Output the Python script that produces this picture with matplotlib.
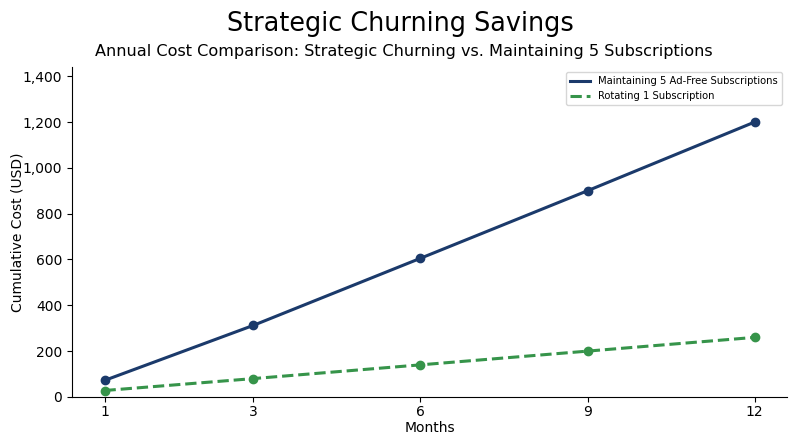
import matplotlib
matplotlib.use("Agg")
import numpy as np
import matplotlib.pyplot as plt
from matplotlib.ticker import FuncFormatter

# data
months = [1, 3, 6, 9, 12]
cost_all_five = [72, 312, 605, 900, 1200]
cost_rotating = [28, 80, 140, 200, 260]

label_all_five = "Maintaining 5 Ad-Free Subscriptions"
label_rotating = "Rotating 1 Subscription"

blue = "#1b3a6b"
green = "#36944a"


# the reference axis gives the first two months a bit more room than the rest
def month_fwd(m):
    m = np.asarray(m, dtype=float)
    return np.where(m < 3, 3 - (3 - m) * 4 / 3, m)


def month_inv(p):
    p = np.asarray(p, dtype=float)
    return np.where(p < 3, 3 - (3 - p) * 3 / 4, p)


fig, ax = plt.subplots(figsize=(8, 4.47), dpi=100)
fig.subplots_adjust(left=0.09, right=0.984, top=0.85, bottom=0.112)
ax.set_xscale("function", functions=(month_fwd, month_inv))

ax.plot(months, cost_all_five, color=blue, linewidth=2.2, label=label_all_five)
ax.plot(months, cost_all_five, color=blue, linestyle="none", marker="o", markersize=6)
ax.plot(months, cost_rotating, color=green, linewidth=2.2, linestyle="--",
        label=label_rotating)
ax.plot(months, cost_rotating, color=green, linestyle="none", marker="o", markersize=6)

ax.set_ylim(0, 1440)
ax.set_xticks(months)
ax.set_xticklabels([str(m) for m in months])
ax.yaxis.set_major_formatter(FuncFormatter(lambda v, p: f"{int(v):,}"))
ax.tick_params(labelsize=10)
ax.tick_params(axis="x", pad=2.5)

ax.set_xlabel("Months", fontsize=10, labelpad=1)
ax.set_ylabel("Cumulative Cost (USD)", fontsize=10, labelpad=-1.5)

ax.spines["top"].set_visible(False)
ax.spines["right"].set_visible(False)

ax.legend(loc="upper right", fontsize=7.2, frameon=True)

fig.suptitle("Strategic Churning Savings", fontsize=18.4, y=0.975)
fig.text(0.505, 0.885, "Annual Cost Comparison: Strategic Churning vs. Maintaining 5 Subscriptions",
         ha="center", va="center", fontsize=11.6)

fig.savefig("out.png", dpi=100)
